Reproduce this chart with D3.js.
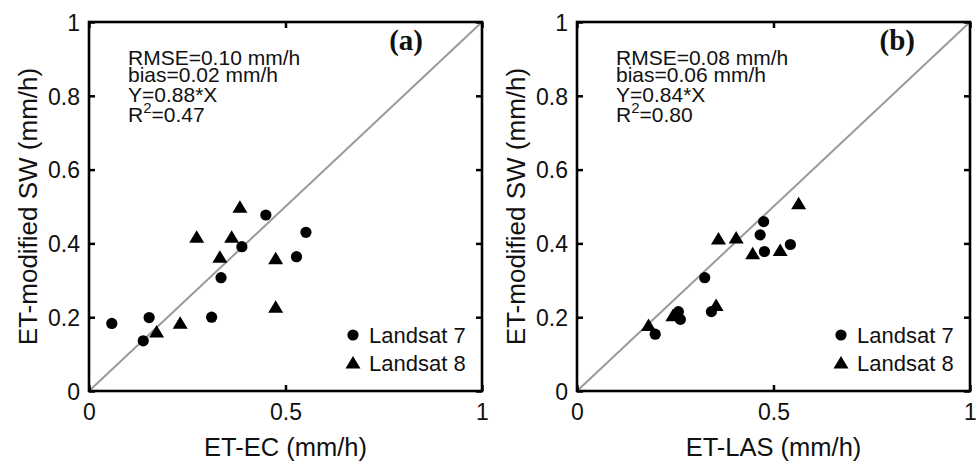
<!DOCTYPE html>
<html><head><meta charset="utf-8">
<script src="https://cdn.jsdelivr.net/npm/d3@7"></script>
<style>body{margin:0;background:#fff}svg{display:block}text{font-family:"Liberation Sans",Arial,sans-serif;fill:#111}</style>
</head><body><svg id="c" width="976" height="463"></svg>
<script>
// ---- data ----
const xTicks = [0, 0.5, 1];
const yTicks = [0, 0.2, 0.4, 0.6, 0.8, 1];
const seriesNames = ["Landsat 7", "Landsat 8"];

const aL7x = [0.058, 0.153, 0.138, 0.312, 0.336, 0.389, 0.450, 0.552, 0.528];
const aL7y = [0.183, 0.199, 0.136, 0.200, 0.307, 0.391, 0.477, 0.430, 0.364];
const aL8x = [0.172, 0.232, 0.274, 0.333, 0.363, 0.384, 0.475, 0.475];
const aL8y = [0.161, 0.185, 0.418, 0.364, 0.418, 0.499, 0.360, 0.228];

const bL7x = [0.475, 0.466, 0.477, 0.543, 0.325, 0.342, 0.258, 0.263, 0.199];
const bL7y = [0.459, 0.423, 0.378, 0.397, 0.307, 0.215, 0.215, 0.194, 0.154];
const bL8x = [0.564, 0.360, 0.405, 0.447, 0.517, 0.354, 0.182, 0.244];
const bL8y = [0.509, 0.413, 0.416, 0.373, 0.382, 0.233, 0.179, 0.205];

const statsA = ["RMSE=0.10 mm/h", "bias=0.02 mm/h", "Y=0.88*X", "R|2|=0.47"];
const statsB = ["RMSE=0.08 mm/h", "bias=0.06 mm/h", "Y=0.84*X", "R|2|=0.80"];

const panels = [
  {left: 89, right: 482, tag: "(a)", xlabel: "ET-EC (mm/h)", l7x: aL7x, l7y: aL7y, l8x: aL8x, l8y: aL8y, stats: statsA, tagOff: 59},
  {left: 577, right: 970, tag: "(b)", xlabel: "ET-LAS (mm/h)", l7x: bL7x, l7y: bL7y, l8x: bL8x, l8y: bL8y, stats: statsB, tagOff: 55}
];
const plotTop = 22, plotBottom = 391;

const svg = d3.select("#c");
const triPath = "M0,-6.5L7.5,6L-7.5,6Z";

panels.forEach(p => {
  const x = d3.scaleLinear().domain([0, 1]).range([p.left, p.right]);
  const y = d3.scaleLinear().domain([0, 1]).range([plotBottom, plotTop]);
  const g = svg.append("g");

  // diagonal 1:1 line
  g.append("line").attr("x1", x(0)).attr("y1", y(0)).attr("x2", x(1)).attr("y2", y(1))
    .attr("stroke", "#9a9a9a").attr("stroke-width", 2);

  // axes (ticks inward, mirrored)
  const ax = [
    d3.axisBottom(x).tickValues(xTicks).tickSizeInner(-6).tickSizeOuter(0).tickFormat(d3.format("")),
    d3.axisTop(x).tickValues(xTicks).tickSizeInner(-6).tickSizeOuter(0).tickFormat(""),
    d3.axisLeft(y).tickValues(yTicks).tickSizeInner(-6).tickSizeOuter(0).tickFormat(d3.format("")),
    d3.axisRight(y).tickValues(yTicks).tickSizeInner(-6).tickSizeOuter(0).tickFormat("")
  ];
  const pos = [`translate(0,${plotBottom})`, `translate(0,${plotTop})`, `translate(${p.left},0)`, `translate(${p.right},0)`];
  ax.forEach((a, i) => {
    const ag = g.append("g").attr("transform", pos[i]).call(a);
    ag.select(".domain").remove();
    ag.selectAll(".tick line").attr("stroke", "#000").attr("stroke-width", 2.5);
    ag.selectAll(".tick text").attr("font-size", 23).attr("fill", "#111")
      .style("font-family", '"Liberation Sans", Arial, sans-serif');
    if (i === 0) ag.selectAll(".tick text").attr("y", 13).attr("dy", "0.71em");
    if (i === 2) ag.selectAll(".tick text").attr("x", -9).attr("dy", "0.36em");
  });
  // box
  g.append("rect").attr("x", p.left).attr("y", plotTop).attr("width", p.right - p.left).attr("height", plotBottom - plotTop)
    .attr("fill", "none").attr("stroke", "#000").attr("stroke-width", 2.6);

  // axis labels
  g.append("text").attr("x", (p.left + p.right) / 2).attr("y", 456).attr("text-anchor", "middle")
    .attr("font-size", 25.5).text(p.xlabel);
  g.append("text").attr("transform", `translate(${p.left - 52},${(plotTop + plotBottom) / 2}) rotate(-90)`)
    .attr("text-anchor", "middle").attr("font-size", 26).text("ET-modified SW (mm/h)");

  // stats text
  const baselines = [65, 82, 102, 122];
  p.stats.forEach((s, i) => {
    const t = g.append("text").attr("x", p.left + 39).attr("y", baselines[i]).attr("font-size", 21);
    const parts = s.split("|");
    if (parts.length === 1) t.text(s);
    else {
      t.append("tspan").text(parts[0]);
      t.append("tspan").attr("dy", -9).attr("font-size", 15).text(parts[1]);
      t.append("tspan").attr("dy", 9).text(parts[2]);
    }
  });

  // panel tag
  g.append("text").attr("x", p.right - p.tagOff).attr("y", 50).attr("text-anchor", "end")
    .attr("font-size", 29).attr("font-weight", "bold")
    .style("font-family", '"Liberation Serif", "Times New Roman", serif').text(p.tag);

  // markers
  const l7 = p.l7x.map((v, i) => [v, p.l7y[i]]);
  const l8 = p.l8x.map((v, i) => [v, p.l8y[i]]);
  g.selectAll("circle.l7").data(l7).join("circle").attr("class", "l7")
    .attr("cx", d => x(d[0])).attr("cy", d => y(d[1])).attr("r", 5.6).attr("fill", "#000");
  g.selectAll("path.l8").data(l8).join("path").attr("class", "l8")
    .attr("transform", d => `translate(${x(d[0])},${y(d[1])})`).attr("d", triPath).attr("fill", "#000");

  // legend
  const lx = p.left + 264;
  g.append("circle").attr("cx", lx).attr("cy", 335).attr("r", 5.6).attr("fill", "#000");
  g.append("text").attr("x", lx + 16).attr("y", 343).attr("font-size", 22).text(seriesNames[0]);
  g.append("path").attr("transform", `translate(${lx},${362.5})`).attr("d", triPath).attr("fill", "#000");
  g.append("text").attr("x", lx + 16).attr("y", 370.5).attr("font-size", 22).text(seriesNames[1]);
});
</script></body></html>
